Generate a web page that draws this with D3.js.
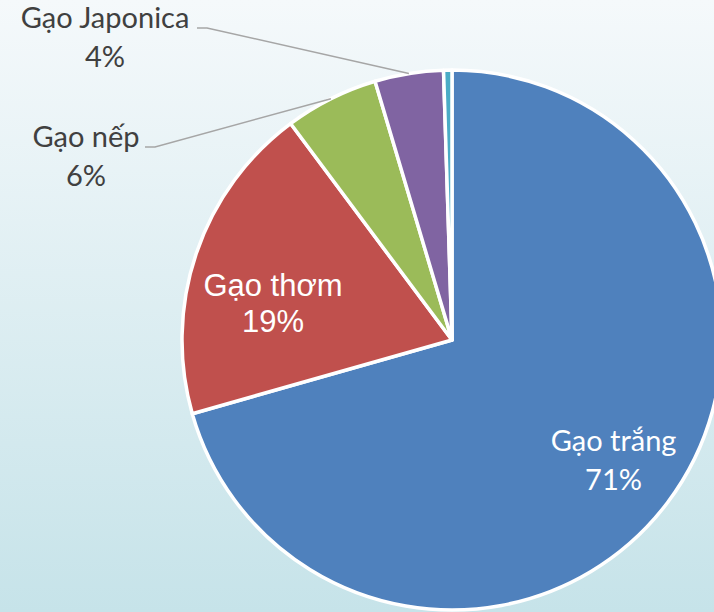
<!DOCTYPE html>
<html>
<head>
<meta charset="utf-8">
<script src="https://cdn.jsdelivr.net/npm/d3@7"></script>
<style>
  html, body { margin: 0; padding: 0; overflow: hidden; }
</style>
</head>
<body>
<div id="chart"></div>
<script>
// chart data
var categories = ["Gạo trắng", "Gạo thơm", "Gạo nếp", "Gạo Japonica", "Gạo khác"];
var shares = [70.6, 19.2, 5.6, 4.1, 0.5];
var pctLabels = ["71%", "19%", "6%", "4%", ""];
var colors = ["#4F81BD", "#C0504D", "#9BBB59", "#8064A2", "#4BACC6"];

var width = 714, height = 612;
var cx = 452, cy = 340, radius = 270;

var svg = d3.select("#chart").append("svg")
  .attr("width", width)
  .attr("height", height);

// background gradient
var grad = svg.append("defs").append("linearGradient")
  .attr("id", "bg")
  .attr("x1", 0).attr("y1", 0).attr("x2", 0).attr("y2", 1);
grad.append("stop").attr("offset", "0%").attr("stop-color", "#F5F9FB");
grad.append("stop").attr("offset", "100%").attr("stop-color", "#C6E3E9");

svg.append("rect")
  .attr("width", width)
  .attr("height", height)
  .attr("fill", "url(#bg)");

var data = categories.map(function(c, i) {
  return {name: c, value: shares[i], pct: pctLabels[i], color: colors[i]};
});

var pie = d3.pie()
  .sort(null)
  .value(function(d) { return d.value; });

var arcs = pie(data);

var arc = d3.arc().innerRadius(0).outerRadius(radius);
var edgeArc = d3.arc().innerRadius(radius).outerRadius(radius);

var g = svg.append("g")
  .attr("transform", "translate(" + cx + "," + cy + ")");

g.selectAll(".slice")
  .data(arcs).enter()
  .append("path")
  .attr("class", "slice")
  .attr("d", arc)
  .attr("fill", function(d) { return d.data.color; })
  .attr("stroke", "#FFFFFF")
  .attr("stroke-width", 3.5)
  .attr("stroke-linejoin", "round");

// inside labels (label radius fraction, font, nudge)
var inside = [
  {i: 0, r: 0.75, font: "Lato, 'Open Sans', sans-serif", size: 29, lh: 39, dx: 0, dy: -2},
  {i: 1, r: 0.70, font: "'Liberation Sans', Arial, sans-serif", size: 31, lh: 36, dx: 0, dy: 24}
];

inside.forEach(function(o) {
  var a = arcs[o.i];
  var lr = radius * o.r;
  var c = d3.arc().innerRadius(lr).outerRadius(lr).centroid(a);
  var t = g.append("text")
    .attr("text-anchor", "middle")
    .attr("fill", "#FFFFFF")
    .style("font-family", o.font)
    .style("font-size", o.size + "px");
  t.append("tspan")
    .attr("x", c[0] + o.dx)
    .attr("y", c[1] + o.dy - o.lh / 2 + o.size * 0.35)
    .text(a.data.name);
  t.append("tspan")
    .attr("x", c[0] + o.dx)
    .attr("y", c[1] + o.dy + o.lh / 2 + o.size * 0.35)
    .text(a.data.pct);
});

// outside labels with leader lines
var outside = [
  {i: 3, x: 105, y: 28, lineX: 197},
  {i: 2, x: 86, y: 147, lineX: 145}
];

outside.forEach(function(o) {
  var a = arcs[o.i];
  var p = edgeArc.centroid(a);
  var tipX = p[0] + cx, tipY = p[1] + cy;
  svg.append("path")
    .attr("d", d3.line()([[o.lineX, o.y], [o.lineX + 10, o.y], [tipX, tipY]]))
    .attr("fill", "none")
    .attr("stroke", "#A6A6A6")
    .attr("stroke-width", 1.5);
  var t = svg.append("text")
    .attr("text-anchor", "middle")
    .attr("fill", "#404040")
    .style("font-family", "Lato, 'Open Sans', sans-serif")
    .style("font-size", "29px");
  t.append("tspan").attr("x", o.x).attr("y", o.y).text(a.data.name);
  t.append("tspan").attr("x", o.x).attr("y", o.y + 39).text(a.data.pct);
});
</script>
</body>
</html>
